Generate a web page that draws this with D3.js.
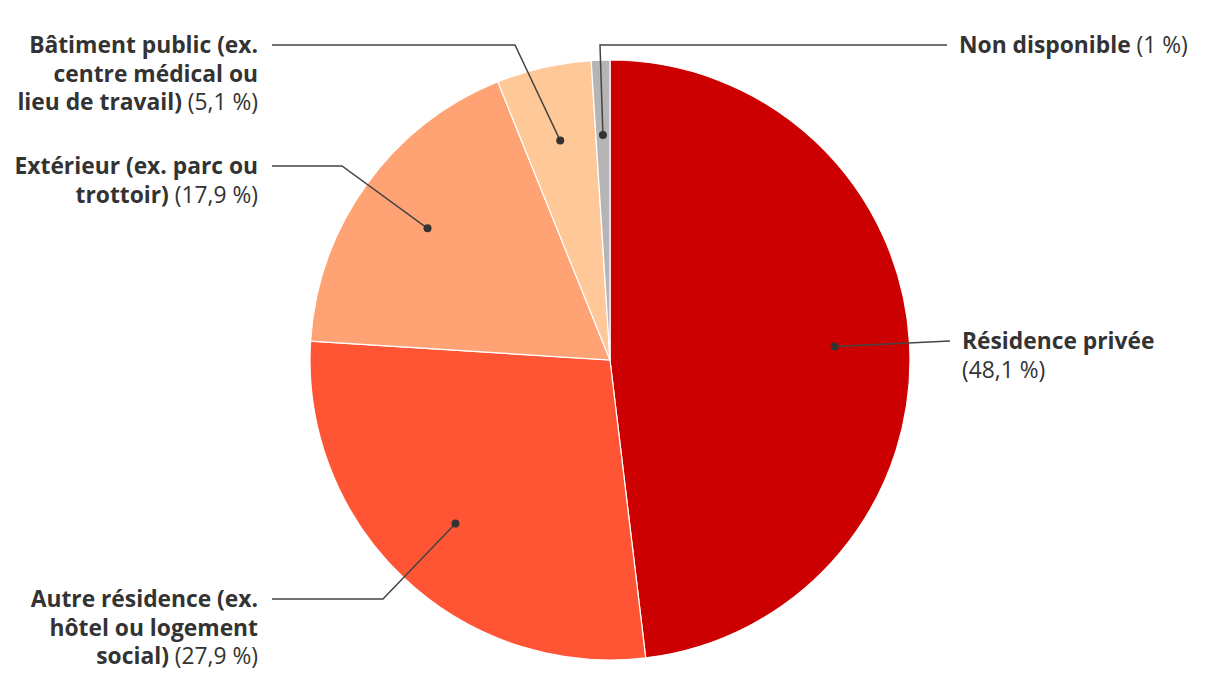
<!DOCTYPE html>
<html lang="fr">
<head>
    <meta charset="UTF-8">
    <title>Lieu</title>
    <script src="https://cdn.jsdelivr.net/npm/d3@7"></script>
    <style>
        html, body {
            margin: 0;
            padding: 0;
            width: 100%;
            height: 100%;
            overflow: hidden;
            background: #fff;
        }
        .label {
            font-family: "Open Sans", "Noto Sans", sans-serif;
            font-size: 22.8px;
            fill: #333;
        }
        .label .name {
            font-weight: bold;
        }
        .leader {
            fill: none;
            stroke: #444;
            stroke-width: 1.5px;
        }
    </style>
</head>
<body>
</body>
<script>
    let width = 1220;
    let height = 700;

    // données
    let categories = ['Résidence privée', 'Autre résidence', 'Extérieur', 'Bâtiment public', 'Non disponible'];
    let values = [48.1, 27.9, 17.9, 5.1, 1];
    let colors = ['#cc0000', '#ff5535', '#ffa375', '#ffc899', '#b5b5b5'];
    // texte des étiquettes, ligne par ligne (le pourcentage suit la dernière ligne)
    let labelLines = [
        ['Résidence privée', ''],
        ['Autre résidence (ex.', 'hôtel ou logement', 'social)'],
        ['Extérieur (ex. parc ou', 'trottoir)'],
        ['Bâtiment public (ex.', 'centre médical ou', 'lieu de travail)'],
        ['Non disponible']
    ];

    // mise en page des étiquettes : coude de la ligne, bout de la ligne, côté
    let labelLayout = [
        {elbow: [950, 341], end: [950, 341], side: 'right'},
        {elbow: [383, 599], end: [272, 599], side: 'left'},
        {elbow: [342, 166], end: [272, 166], side: 'left'},
        {elbow: [515, 45], end: [272, 45], side: 'left'},
        {elbow: [600, 45], end: [947, 45], side: 'right'}
    ];

    let cx = 610, cy = 360, radius = 300;
    let lineHeight = 28.5;

    let fmt = v => d3.format('.1f')(v).replace('.0', '').replace('.', ',') + '\u00a0%';

    let svg = d3.select('body')
        .append('svg')
        .attr('width', width)
        .attr('height', height);

    let pie = d3.pie().sort(null).value(d => d.value);
    let data = categories.map((c, i) => ({
        name: c, value: values[i], color: colors[i], lines: labelLines[i], layout: labelLayout[i]
    }));
    let arcs = pie(data);

    let arc = d3.arc().innerRadius(0).outerRadius(radius);
    let dotArc = d3.arc().innerRadius(radius * 0.75).outerRadius(radius * 0.75);

    let g = svg.append('g').attr('transform', `translate(${cx},${cy})`);

    g.selectAll('.slice')
        .data(arcs)
        .enter().append('path')
        .classed('slice', true)
        .attr('d', arc)
        .attr('fill', d => d.data.color)
        .attr('stroke', '#fff')
        .attr('stroke-width', 1.2);

    // lignes de rappel
    let leaders = svg.append('g');
    arcs.forEach(d => {
        let c = dotArc.centroid(d);
        let p = [c[0] + cx, c[1] + cy];
        let lay = d.data.layout;
        leaders.append('path')
            .classed('leader', true)
            .attr('d', d3.line()([p, lay.elbow, lay.end]));
        leaders.append('circle')
            .attr('cx', p[0])
            .attr('cy', p[1])
            .attr('r', 4)
            .attr('fill', '#333');
    });

    // étiquettes
    let labels = svg.append('g');
    arcs.forEach(d => {
        let lay = d.data.layout;
        let lines = d.data.lines;
        let right = lay.side === 'right';
        let x = right ? lay.end[0] + 12 : lay.end[0] - 14;
        let text = labels.append('text')
            .classed('label', true)
            .attr('text-anchor', right ? 'start' : 'end')
            .attr('x', x)
            .attr('y', lay.end[1] + 8);
        lines.forEach((line, i) => {
            let last = i === lines.length - 1;
            let t = text.append('tspan')
                .attr('x', x)
                .attr('dy', i === 0 ? 0 : lineHeight);
            if (line) {
                t.append('tspan').classed('name', true).text(line);
            }
            if (last) {
                t.append('tspan').text((line ? ' ' : '') + '(' + fmt(d.data.value) + ')');
            }
        });
    });
</script>
</html>
